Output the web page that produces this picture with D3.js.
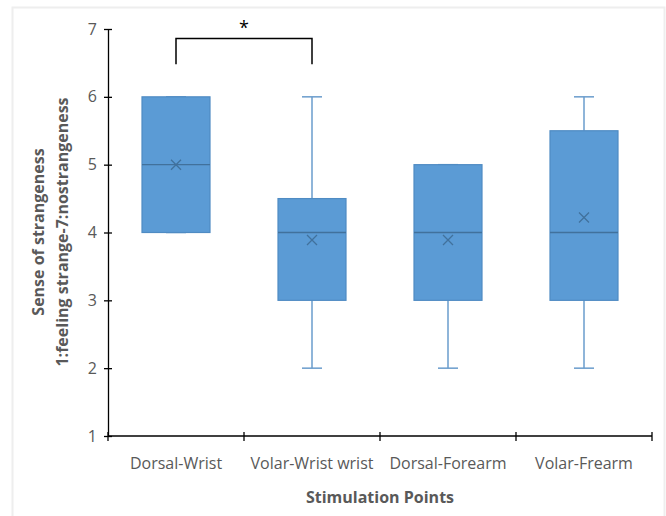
<!DOCTYPE html>
<html>
<head>
<meta charset="utf-8">
<script src="https://cdn.jsdelivr.net/npm/d3@7"></script>
<style>
body { margin: 0; background: #fff; }
.axis text { font-family: "Open Sans", sans-serif; font-size: 16px; fill: #595959; }
.axis path, .axis line { stroke: #000; stroke-width: 1.3px; }
.title { font-family: "Open Sans", sans-serif; font-weight: bold; font-size: 16px; fill: #595959; }
</style>
</head>
<body>
<svg id="chart" width="666" height="516"></svg>
<script>
// categories and box stats
var categories = ["Dorsal-Wrist", "Volar-Wrist wrist", "Dorsal-Forearm", "Volar-Frearm"];
var mins    = [4, 2, 2, 2];
var q1s     = [4, 3, 3, 3];
var medians = [5, 4, 4, 4];
var q3s     = [6, 4.5, 5, 5.5];
var maxs    = [6, 6, 5, 6];
var means   = [5, 3.89, 3.89, 4.22];
var yTicks  = [1, 2, 3, 4, 5, 6, 7];

var data = categories.map(function(c, i) {
  return {cat: c, min: mins[i], q1: q1s[i], med: medians[i], q3: q3s[i], max: maxs[i], mean: means[i]};
});

var svg = d3.select("#chart");

// light frame
svg.append("rect")
  .attr("x", 12.5).attr("y", 7.5).attr("width", 652).attr("height", 520)
  .attr("fill", "none").attr("stroke", "#eeeeee").attr("stroke-width", 2);

var x = d3.scaleBand().domain(categories).range([108, 652]);
var y = d3.scaleLinear().domain([1, 7]).range([436, 29]);

// y axis
var yAxis = svg.append("g").attr("class", "axis")
  .attr("transform", "translate(108,0)")
  .call(d3.axisLeft(y).tickValues(yTicks).tickFormat(d3.format("d")).tickSize(5).tickSizeOuter(0));
yAxis.selectAll(".tick line").attr("x1", 4).attr("x2", -4);
yAxis.selectAll(".tick text").attr("x", -11);

// x axis with ticks between categories
var xAxis = svg.append("g").attr("class", "axis")
  .attr("transform", "translate(0,436)");
xAxis.append("line").attr("x1", 108).attr("x2", 652).attr("y1", 0).attr("y2", 0);
var edges = categories.map(function(c) { return x(c); }).concat([x.range()[1]]);
xAxis.selectAll(".sep").data(edges).enter().append("line")
  .attr("x1", function(d) { return d; }).attr("x2", function(d) { return d; })
  .attr("y1", -4).attr("y2", 5);
xAxis.selectAll(".lbl").data(categories).enter().append("text")
  .attr("x", function(d) { return x(d) + x.bandwidth() / 2; })
  .attr("y", 33)
  .attr("text-anchor", "middle")
  .text(function(d) { return d; });

var boxW = 68;
var g = svg.append("g");
var box = g.selectAll(".box").data(data).enter().append("g")
  .attr("transform", function(d) { return "translate(" + (x(d.cat) + x.bandwidth() / 2) + ",0)"; });

// whiskers
box.append("line")
  .attr("x1", 0).attr("x2", 0)
  .attr("y1", function(d) { return y(d.max); }).attr("y2", function(d) { return y(d.q3); })
  .attr("stroke", "#6a9ccc").attr("stroke-width", 1.5);
box.append("line")
  .attr("x1", 0).attr("x2", 0)
  .attr("y1", function(d) { return y(d.q1); }).attr("y2", function(d) { return y(d.min); })
  .attr("stroke", "#6a9ccc").attr("stroke-width", 1.5);
box.append("line")
  .attr("x1", -10).attr("x2", 10)
  .attr("y1", function(d) { return y(d.max); }).attr("y2", function(d) { return y(d.max); })
  .attr("stroke", "#6a9ccc").attr("stroke-width", 1.5);
box.append("line")
  .attr("x1", -10).attr("x2", 10)
  .attr("y1", function(d) { return y(d.min); }).attr("y2", function(d) { return y(d.min); })
  .attr("stroke", "#6a9ccc").attr("stroke-width", 1.5);

// boxes
box.append("rect")
  .attr("x", -boxW / 2).attr("width", boxW)
  .attr("y", function(d) { return y(d.q3); })
  .attr("height", function(d) { return y(d.q1) - y(d.q3); })
  .attr("fill", "#5b9bd5").attr("stroke", "#4f8bc3").attr("stroke-width", 1.2);

// median
box.append("line")
  .attr("x1", -boxW / 2).attr("x2", boxW / 2)
  .attr("y1", function(d) { return y(d.med); }).attr("y2", function(d) { return y(d.med); })
  .attr("stroke", "#41719c").attr("stroke-width", 1.3);

// mean marker
box.append("path")
  .attr("transform", function(d) { return "translate(0," + y(d.mean) + ")"; })
  .attr("d", "M-5,-5L5,5M-5,5L5,-5")
  .attr("stroke", "#41719c").attr("stroke-width", 1.3).attr("fill", "none");

// significance bracket
var c0 = x(categories[0]) + x.bandwidth() / 2, c1 = x(categories[1]) + x.bandwidth() / 2;
svg.append("path")
  .attr("d", "M" + c0 + "," + y(6.48) + "V" + y(6.86) + "H" + c1 + "V" + y(6.48))
  .attr("fill", "none").attr("stroke", "#000").attr("stroke-width", 1.5);
svg.append("text")
  .attr("x", (c0 + c1) / 2).attr("y", 34)
  .attr("text-anchor", "middle")
  .style("font-family", "Open Sans, sans-serif").style("font-size", "18px").style("fill", "#000")
  .text("*");

// axis titles
svg.append("text").attr("class", "title")
  .attr("transform", "translate(44,232) rotate(-90)")
  .attr("text-anchor", "middle")
  .text("Sense of strangeness");
svg.append("text").attr("class", "title")
  .attr("transform", "translate(68,232) rotate(-90)")
  .attr("text-anchor", "middle")
  .text("1:feeling strange-7:nostrangeness");
svg.append("text").attr("class", "title")
  .attr("x", 380).attr("y", 503)
  .attr("text-anchor", "middle")
  .text("Stimulation Points");
</script>
</body>
</html>
